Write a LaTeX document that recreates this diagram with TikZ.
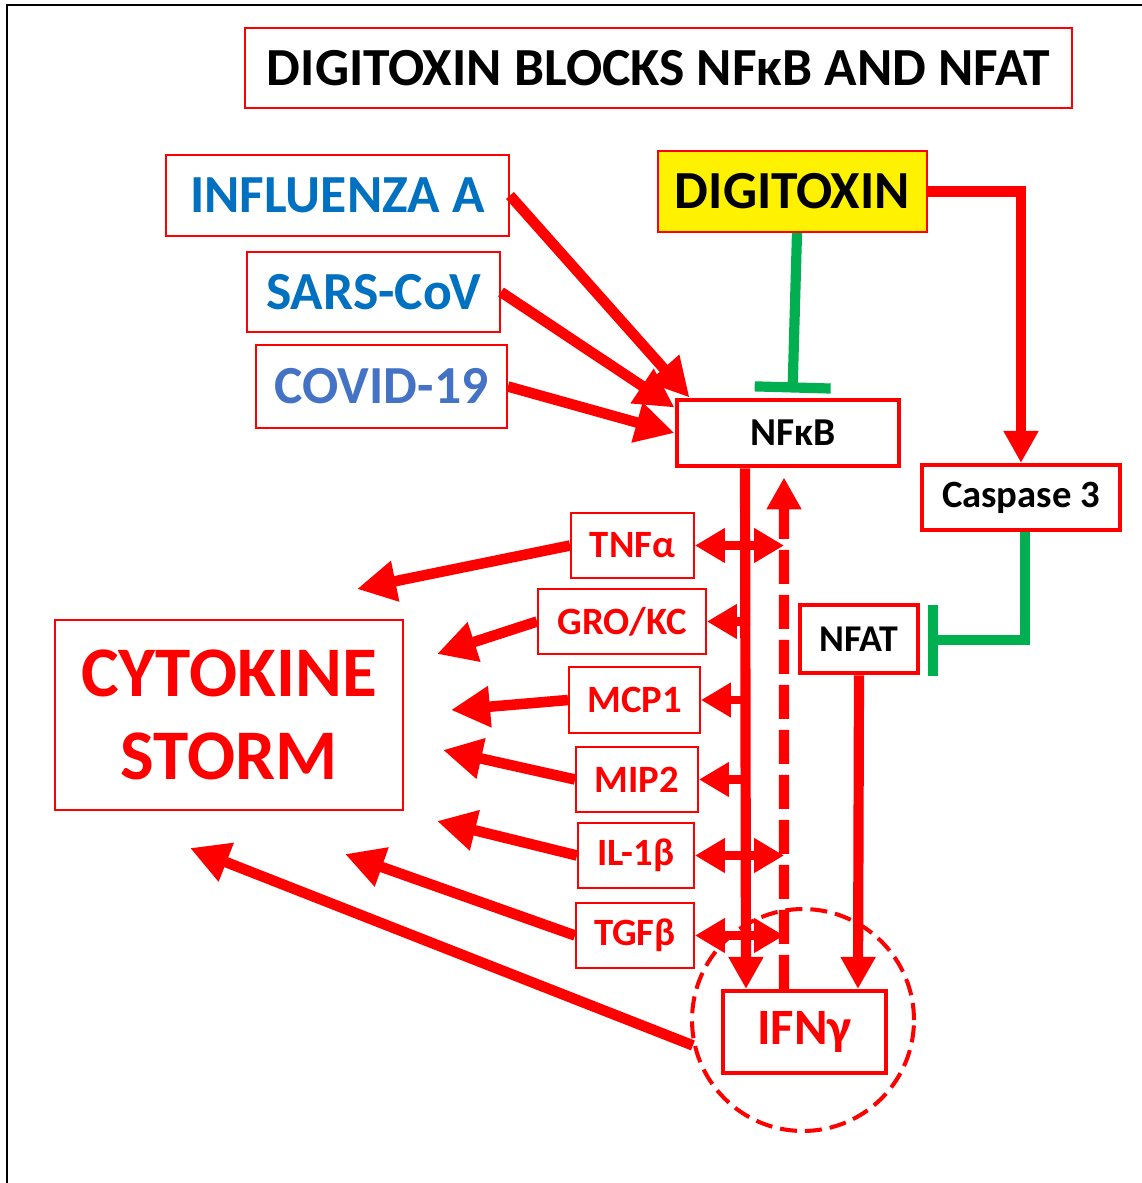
\documentclass[tikz,border=0pt]{standalone}
\usepackage{fontspec}
\setmainfont{Carlito}
\usetikzlibrary{arrows.meta}
\usetikzlibrary{calc}
\definecolor{virusblue}{RGB}{0,112,192}
\definecolor{covidblue}{RGB}{68,114,196}
\definecolor{blockgreen}{RGB}{0,176,80}
\tikzset{>={Triangle[length=7.8mm,width=7.8mm]}}
\tikzset{
    boxsize/.style 2 args={minimum width=#1*0.02cm, minimum height=#2*0.02cm},
    thinbox/.style={draw=red, line width=1.1pt, inner sep=0pt},
    thickbox/.style={draw=red, line width=2.8pt, inner sep=0pt},
    bigtext/.style={font=\fontsize{30.5pt}{36pt}\selectfont\bfseries},
    midtext/.style={font=\fontsize{22pt}{26pt}\selectfont\bfseries},
    fatarrow/.style={draw=red, line width=6pt, ->},
    downarrow/.style={draw=red, line width=5.8pt, -{Triangle[length=6.4mm,width=6.6mm]}},
    updash/.style={draw=red, line width=5.8pt, dash pattern=on 6.8mm off 2.2mm, -{Triangle[length=6.4mm,width=6.6mm]}},
    twoway/.style={draw=red, line width=5pt, {Triangle[length=6mm,width=6.6mm]}-{Triangle[length=6mm,width=6.6mm]}},
    oneway/.style={draw=red, line width=5pt, -{Triangle[length=6mm,width=6.6mm]}},
    inhibit/.style={draw=blockgreen, line width=5.8pt, -{Bar[width=#1]}},
    ring/.style={circle, draw=red, line width=2.3pt, dash pattern=on 3.4mm off 1.6mm, minimum size=4.44cm, inner sep=0pt},
}

\begin{document}
\begin{tikzpicture}[x=0.02cm, y=-0.02cm]
	\useasboundingbox (0,0) rectangle (1142,1183);
	\draw[line width=0.8pt] (7,1183) -- (7,5) -- (1142,5);
	% boxes
	\node[thinbox, boxsize={827}{80}, bigtext] (title) at (658.5,68) {DIGITOXIN BLOCKS NFκB AND NFAT};
	\node[thinbox, boxsize={343}{81}, bigtext, text=virusblue] (influenza) at (337.5,195.5) {INFLUENZA A\hspace{0.3cm}};
	\node[thinbox, boxsize={253}{80}, bigtext, text=virusblue] (sars) at (373.5,292) {SARS-CoV};
	\node[thinbox, boxsize={251}{83}, bigtext, text=covidblue] (covid) at (381.5,386.5) {COVID-19};
	\node[thinbox, boxsize={269}{81}, bigtext, fill=yellow] (digitoxin) at (792.5,191.5) {DIGITOXIN};
	\node[thickbox, boxsize={222}{66}, font=\fontsize{22.5pt}{26pt}\selectfont\bfseries] (nfkb) at (788,433) {\hspace{0.2cm}NFκB};
	\node[thickbox, boxsize={198}{65}, midtext, line width=2.4pt] (caspase) at (1021,497.5) {Caspase 3};
	\node[thickbox, boxsize={118}{68}, font=\fontsize{21.5pt}{25pt}\selectfont\bfseries] (nfat) at (859,639) {NFAT};
	\node[thinbox, boxsize={348}{190}, text=red, align=center, font=\fontsize{40.5pt}{47.6pt}\selectfont\bfseries] (storm) at (229,715) {CYTOKINE\hspace{0.3cm}\\STORM};
	\node[thinbox, boxsize={123}{65}, midtext, text=red] (tnf) at (632.5,545.5) {TNFα};
	\node[thinbox, boxsize={168}{65}, midtext, text=red] (gro) at (622,621.5) {GRO/KC};
	\node[thinbox, boxsize={131}{66}, midtext, text=red] (mcp) at (634.5,700) {MCP1};
	\node[thinbox, boxsize={122}{65}, midtext, text=red] (mip) at (637,779.5) {MIP2};
	\node[thinbox, boxsize={116}{65}, midtext, text=red] (il) at (636,855.5) {IL-1β};
	\node[thinbox, boxsize={118}{65}, midtext, text=red] (tgf) at (635,935.5) {TGFβ};
	\node[ring] (ifnring) at (803,1020) {};
	\node[thickbox, boxsize={163}{82}, line width=2.4pt, text=red, font=\fontsize{29pt}{33pt}\selectfont\bfseries] (ifn) at (804.5,1032) {IFNγ\hspace{0.25cm}};
	% free ends
	\coordinate (solidx) at (746,0);
	\coordinate (dashx) at (784,0);
	\coordinate (nfatbar) at (928,640);
	\coordinate (tnfend) at (357,589);
	\coordinate (groend) at (437,654);
	\coordinate (mcpend) at (451,710);
	\coordinate (mipend) at (443,750);
	\coordinate (ilend) at (437,821);
	\coordinate (tgfend) at (345,854);
	\coordinate (ifnend) at (190,848);
	% viruses into NFkB
	\draw[fatarrow] (influenza.east) -- ([xshift=0.3cm]nfkb.north west);
	\draw[fatarrow] (sars.east) -- ([yshift=-0.2cm]nfkb.north west);
	\draw[fatarrow] (covid.east) -- (nfkb.west);
	% digitoxin
	\draw[inhibit=15.2mm] ([xshift=0.09cm]digitoxin.south) -- ([xshift=0.09cm,yshift=0.1cm]nfkb.north);
	\draw[downarrow] (digitoxin.east) -| (caspase.north);
	\draw[inhibit=14.2mm] ([xshift=0.08cm]caspase.south) |- (nfatbar);
	% NFkB, NFAT and IFNg
	\draw[downarrow] ([xshift=-0.86cm]nfkb.south) -- ([xshift=-1.17cm]ifn.north);
	\draw[updash] ([xshift=-0.41cm]ifn.north) -- ([xshift=-0.08cm,yshift=-0.18cm]nfkb.south);
	\draw[downarrow] (nfat.south) -- ([xshift=1.07cm]ifn.north);
	% cytokines
	\draw[twoway] (tnf.east) -- (tnf.east -| dashx);
	\draw[oneway] (gro.east -| solidx) -- (gro.east);
	\draw[oneway] (mcp.east -| solidx) -- (mcp.east);
	\draw[oneway] (mip.east -| solidx) -- (mip.east);
	\draw[twoway] (il.east) -- (il.east -| dashx);
	\draw[twoway] (tgf.east) -- (tgf.east -| dashx);
	\draw[fatarrow] (tnf.west) -- (tnfend);
	\draw[fatarrow] (gro.west) -- (groend);
	\draw[fatarrow] (mcp.west) -- (mcpend);
	\draw[fatarrow] (mip.west) -- (mipend);
	\draw[fatarrow] (il.west) -- (ilend);
	\draw[fatarrow] (tgf.west) -- (tgfend);
	\draw[fatarrow] (ifnring.193) -- (ifnend);
\end{tikzpicture}
\end{document}
